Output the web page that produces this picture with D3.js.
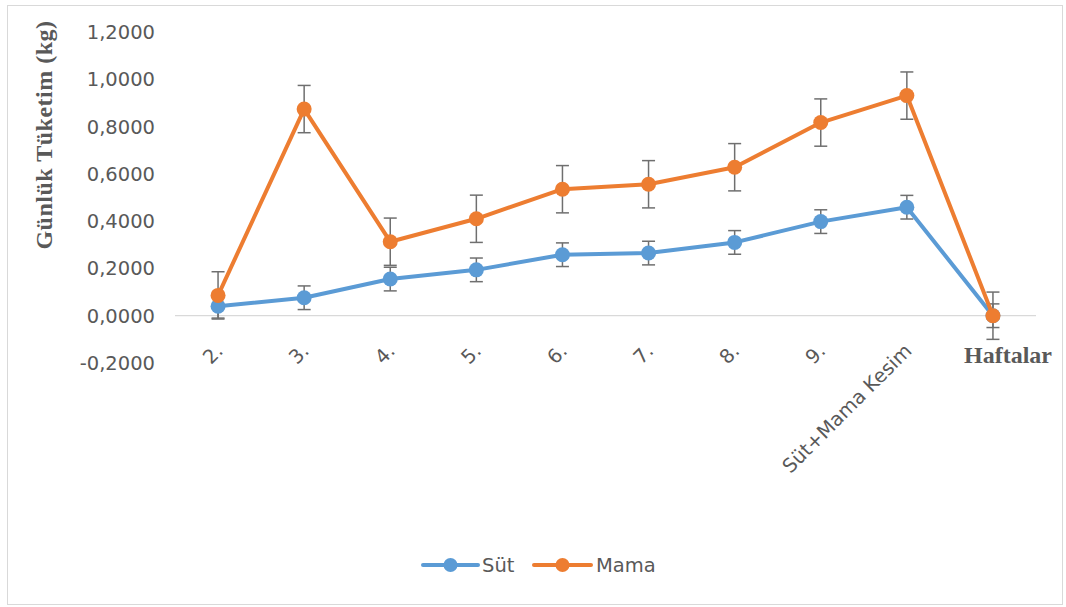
<!DOCTYPE html>
<html><head><meta charset="utf-8">
<script src="https://cdn.jsdelivr.net/npm/d3@7"></script>
<style>body{margin:0;background:#fff}</style>
</head><body>
<svg id="c" width="1066" height="607"></svg>
<script>
const categories = ["2.", "3.", "4.", "5.", "6.", "7.", "8.", "9.", "Süt+Mama Kesim", ""];
const sut  = [0.040, 0.076, 0.155, 0.194, 0.258, 0.265, 0.310, 0.398, 0.459, 0.000];
const mama = [0.086, 0.874, 0.313, 0.410, 0.535, 0.556, 0.628, 0.817, 0.931, 0.000];
const sutErr  = [0.05, 0.05, 0.05, 0.05, 0.05, 0.05, 0.05, 0.05, 0.05, 0.05];
const mamaErr = [0.1, 0.1, 0.1, 0.1, 0.1, 0.1, 0.1, 0.1, 0.1, 0.1];
const yTicks = [-0.2, 0, 0.2, 0.4, 0.6, 0.8, 1.0, 1.2];
const seriesNames = ["Süt", "Mama"];
const colors = ["#5B9BD5", "#ED7D31"];

const svg = d3.select("#c");
svg.append("rect").attr("x", 7.5).attr("y", 5.5).attr("width", 1055).attr("height", 599)
  .attr("fill", "#fff").attr("stroke", "#d9d9d9").attr("stroke-width", 1);

const x = d3.scaleBand().domain(categories.map((d, i) => i)).range([175, 1036]);
const y = d3.scaleLinear().domain([-0.2, 1.2]).range([363, 32]);
const cx = i => x(i) + x.bandwidth() / 2;
const fmt = v => d3.format(".4f")(v).replace(".", ",").replace("−", "-");
const FS = 19.5;

// y tick labels
svg.append("g").selectAll("text").data(yTicks).join("text")
  .attr("x", 155).attr("y", d => y(d)).attr("dy", "0.36em")
  .attr("text-anchor", "end").attr("font-family", "DejaVu Sans").attr("font-size", FS)
  .attr("fill", "#595959").text(d => fmt(d));

// zero axis line
svg.append("line").attr("x1", 175).attr("x2", 1036).attr("y1", y(0)).attr("y2", y(0))
  .attr("stroke", "#d9d9d9").attr("stroke-width", 1.3);

// x labels
svg.append("g").selectAll("text").data(categories).join("text")
  .attr("transform", (d, i) => `translate(${cx(i) + 6},${352}) rotate(-45)`)
  .attr("text-anchor", "end").attr("font-family", "DejaVu Sans").attr("font-size", FS)
  .attr("fill", "#595959").text(d => d);

// axis titles
svg.append("text").attr("transform", "translate(52,135) rotate(-90)")
  .attr("text-anchor", "middle").attr("font-family", "Liberation Serif").attr("font-weight", "bold")
  .attr("font-size", 24).attr("letter-spacing", 0.5).attr("fill", "#595959").text("Günlük Tüketim (kg)");
svg.append("text").attr("x", 1008).attr("y", 363)
  .attr("text-anchor", "middle").attr("font-family", "Liberation Serif").attr("font-weight", "bold")
  .attr("font-size", 24).attr("fill", "#595959").text("Haftalar");

const data = [sut, mama];
const errs = [sutErr, mamaErr];

// error bars
data.forEach((s, k) => {
  const g = svg.append("g").attr("stroke", "#6f6f6f").attr("stroke-width", 1.5);
  s.forEach((v, i) => {
    const e = errs[k][i];
    g.append("line").attr("x1", cx(i)).attr("x2", cx(i)).attr("y1", y(v - e)).attr("y2", y(v + e));
    [v - e, v + e].forEach(t => g.append("line").attr("x1", cx(i) - 6.5).attr("x2", cx(i) + 6.5)
      .attr("y1", y(t)).attr("y2", y(t)));
  });
});

// lines + markers
data.forEach((s, k) => {
  svg.append("path").datum(s)
    .attr("d", d3.line().x((d, i) => cx(i)).y(d => y(d)))
    .attr("fill", "none").attr("stroke", colors[k]).attr("stroke-width", 4).attr("stroke-linejoin", "round");
  svg.append("g").selectAll("circle").data(s).join("circle")
    .attr("cx", (d, i) => cx(i)).attr("cy", d => y(d)).attr("r", 7.5).attr("fill", colors[k]);
});

// legend
const leg = [{x1: 423, x2: 478, tx: 482}, {x1: 534, x2: 591, tx: 596}];
leg.forEach((l, k) => {
  svg.append("line").attr("x1", l.x1).attr("x2", l.x2).attr("y1", 565).attr("y2", 565)
    .attr("stroke", colors[k]).attr("stroke-width", 4).attr("stroke-linecap", "round");
  svg.append("circle").attr("cx", (l.x1 + l.x2) / 2).attr("cy", 565).attr("r", 7).attr("fill", colors[k]);
  svg.append("text").attr("x", l.tx).attr("y", 565).attr("dy", "0.36em")
    .attr("font-family", "DejaVu Sans").attr("font-size", FS).attr("fill", "#595959").text(seriesNames[k]);
});
</script>
</body></html>
